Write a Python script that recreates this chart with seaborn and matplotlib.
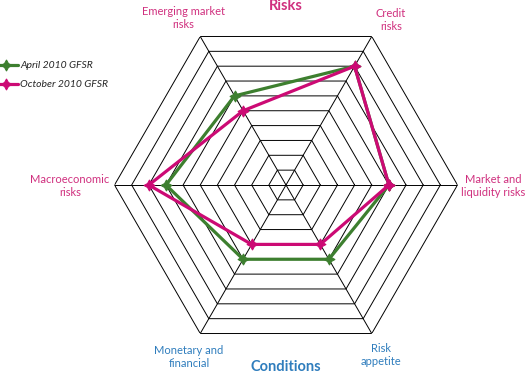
import numpy as np
import pandas as pd
import matplotlib
matplotlib.use("Agg")
import matplotlib.pyplot as plt
import seaborn as sns

# axes, counter-clockwise starting at 3 o'clock
axes_labels = ["Market and\nliquidity risks", "Credit\nrisks", "Emerging market\nrisks",
               "Macroeconomic\nrisks", "Monetary and\nfinancial", "Risk\nappetite"]
april_2010 = [6, 8, 6, 7, 5, 5]
october_2010 = [6, 8, 5, 8, 4, 4]
series_names = ["April 2010 GFSR", "October 2010 GFSR"]
n_rings = 10

green = "#3d7f2f"
magenta = "#cc0a74"
risk_col = "#d0307f"
cond_col = "#2f7dbd"

sns.set_theme(style="white")
plt.rcParams["font.family"] = ["Lato", "DejaVu Sans"]

W, H = 527, 374
fig = plt.figure(figsize=(W / 100, H / 100), dpi=100)
cx, cy, R = 286, 374 - 185, 171.5
ax = fig.add_axes([(cx - R) / W, (cy - R) / H, 2 * R / W, 2 * R / H], projection="polar")

theta = np.deg2rad(np.arange(6) * 60)
theta_closed = np.append(theta, 2 * np.pi)

# hexagonal rings and spokes
for k in range(1, n_rings + 1):
    ax.plot(theta_closed, [k] * 7, color="black", lw=0.7, zorder=1)
for t in theta:
    ax.plot([t, t], [0, n_rings], color="black", lw=0.7, zorder=1)

for name, vals, col in [(series_names[0], april_2010, green),
                        (series_names[1], october_2010, magenta)]:
    df = pd.DataFrame({"theta": theta_closed, "r": vals + vals[:1]})
    sns.lineplot(data=df, x="theta", y="r", sort=False, estimator=None, ax=ax,
                 color=col, lw=2.3, marker=(4, 1, 0), markersize=8,
                 markeredgecolor=col, label=name, zorder=3)

ax.set_ylim(0, n_rings)
ax.grid(False)
ax.set_xticks([])
ax.set_yticks([])
ax.set_xlabel("")
ax.set_ylabel("")
ax.spines["polar"].set_visible(False)
ax.set_facecolor("none")

h, l = ax.get_legend_handles_labels()
ax.get_legend().remove()
fig.legend(h, l, loc="upper left", bbox_to_anchor=(-0.01, 1 - 61 / H), frameon=False,
           prop={"style": "italic", "size": 7.5}, handlelength=2.2, handletextpad=0.25,
           labelspacing=0.95, borderaxespad=0, borderpad=0)


def ftext(x, y, s, color, **kw):
    fig.text(x / W, 1 - y / H, s, color=color, ha="center", va="center",
             fontsize=8, linespacing=1.2, **kw)


ftext(183, 18, axes_labels[2], risk_col)
ftext(391, 20, axes_labels[1], risk_col)
ftext(493, 186, axes_labels[0], risk_col)
ftext(70, 186, axes_labels[3], risk_col)
ftext(189, 357, axes_labels[4], cond_col)
ftext(381, 355, axes_labels[5], cond_col)
fig.text(286 / W, 1 - 6 / H, "Risks", color=risk_col, ha="center", va="center",
         fontsize=10.5, fontweight="bold")
fig.text(286 / W, 1 - 367 / H, "Conditions", color=cond_col, ha="center", va="center",
         fontsize=10.5, fontweight="bold")

fig.savefig("out.png", dpi=100, facecolor="white")
